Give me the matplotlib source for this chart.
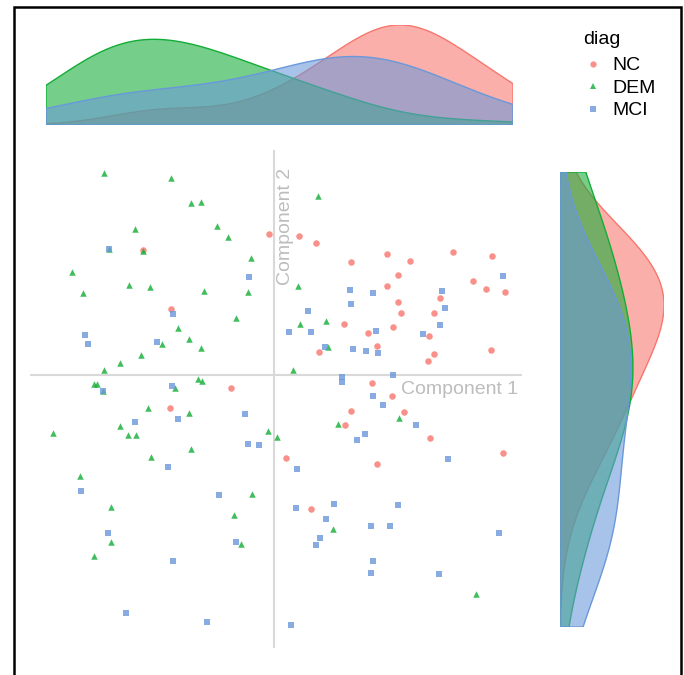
import numpy as np
import matplotlib.pyplot as plt
from matplotlib.lines import Line2D
from matplotlib.patches import Rectangle

plt.rcParams['font.family'] = ['Liberation Sans', 'DejaVu Sans']

groups = ["NC", "DEM", "MCI"]
colors = {"NC": "#F8766D", "DEM": "#12AD36", "MCI": "#6A98DA"}
markers = {"NC": "o", "DEM": "^", "MCI": "s"}

nc_x = [-0.05, 0.25, 0.42, 1.13, 1.36, 1.79, 2.18, 0.77, 1.24, 1.99, 2.12, 2.31, 1.13, 1.66,
        1.24, 1.27, 1.60, 0.70, 1.19, 0.94, 1.55, 0.45, 1.03, 1.60, 1.54, 2.17, -1.31, -1.03,
        -0.43, -1.04, 0.98, 1.18, 0.77, 1.30, 0.71, 1.56, 2.29, 0.12, 1.03, 0.37]
nc_y = [1.41, 1.39, 1.32, 1.21, 1.14, 1.23, 1.19, 1.13, 1.00, 0.94, 0.86, 0.83, 0.89, 0.77,
        0.73, 0.62, 0.62, 0.51, 0.48, 0.42, 0.39, 0.23, 0.29, 0.21, 0.14, 0.25, 1.25, 0.66,
        -0.13, -0.33, -0.08, -0.21, -0.36, -0.37, -0.50, -0.63, -0.78, -0.83, -0.89, -1.34]

dem_x = [-1.70, -1.03, -0.83, -0.73, -1.39, -0.57, -0.46, -1.31, -1.65, -0.23, -2.02, -1.45,
         -1.24, -0.70, -0.26, -1.91, -0.38, -0.96, -0.85, -1.12, -0.73, -1.33, -1.54, -1.70,
         -0.76, -0.72, 0.44, 0.24, 0.26, 0.52, 0.54, 0.19, -1.80, -1.77, -0.99, -1.71, -1.26,
         -0.85, -1.54, -2.21, -1.46, -1.38, -0.06, 0.03, -0.83, -1.23, -1.94, -0.22, -1.63,
         -0.40, -1.63, -0.33, -1.80, 0.64, 1.25, 0.59, 2.02]
dem_y = [2.02, 1.97, 1.72, 1.73, 1.46, 1.49, 1.38, 1.24, 1.26, 1.17, 1.03, 0.90, 0.88, 0.84,
         0.83, 0.82, 0.57, 0.47, 0.36, 0.31, 0.27, 0.20, 0.12, 0.05, -0.04, -0.06, 1.79, 0.89,
         0.51, 0.54, 0.28, 0.05, -0.09, -0.09, -0.13, -0.16, -0.33, -0.38, -0.51, -0.58, -0.60,
         -0.60, -0.56, -0.62, -0.74, -0.82, -1.01, -1.19, -1.32, -1.40, -1.67, -1.69, -1.81,
         -0.49, -0.43, -1.54, -2.19]

mci_x = [-1.65, -0.25, -1.01, -1.89, -1.86, -1.17, 0.76, 0.99, 0.77, 1.68, 2.29, 0.34, 1.71,
         0.15, 0.37, 1.02, 1.66, 1.49, 0.51, 0.79, 0.92, 1.04, 0.68, 1.19, 0.68, -1.02, -1.71,
         -0.96, -0.29, -1.39, -0.26, -0.15, -1.06, -1.93, -0.55, -1.66, -0.38, -1.01, -1.48,
         -0.67, 0.99, 1.09, 1.42, 0.91, 0.83, 1.74, 0.23, 0.22, 0.60, 1.24, 0.52, 0.97, 1.16,
         2.25, 0.46, 0.42, 0.99, 0.97, 1.65, 0.17]
mci_y = [1.26, 0.98, 0.61, 0.40, 0.31, 0.33, 0.85, 0.82, 0.71, 0.84, 0.99, 0.64, 0.67, 0.43,
         0.43, 0.44, 0.50, 0.41, 0.28, 0.26, 0.24, 0.22, -0.02, 0.00, -0.07, -0.11, -0.16,
         -0.44, -0.39, -0.47, -0.69, -0.70, -0.92, -1.16, -1.20, -1.58, -1.67, -1.86, -2.38,
         -2.47, -0.21, -0.30, -0.50, -0.59, -0.65, -0.84, -0.94, -1.33, -1.29, -1.30, -1.44,
         -1.51, -1.51, -1.58, -1.63, -1.70, -1.86, -1.98, -1.99, -2.50]

data = {"NC": (np.array(nc_x), np.array(nc_y)),
        "DEM": (np.array(dem_x), np.array(dem_y)),
        "MCI": (np.array(mci_x), np.array(mci_y))}


def kde(v, grid, adjust=1.0):
    # gaussian kde with R's bw.nrd0 rule
    n = len(v)
    iqr = np.subtract(*np.percentile(v, [75, 25]))
    bw = 0.9 * min(np.std(v, ddof=1), iqr / 1.34) * n ** -0.2 * adjust
    z = (grid[:, None] - v[None, :]) / bw
    return np.exp(-0.5 * z ** 2).sum(axis=1) / (n * bw * np.sqrt(2 * np.pi))


W, H = 684, 675
fig = plt.figure(figsize=(W / 100, H / 100), dpi=100)


def px_axes(left, top, right, bottom):
    return fig.add_axes([left / W, 1 - bottom / H, (right - left) / W, (bottom - top) / H])


ax = px_axes(30, 150, 522, 648)
ax.set_xlim((30 - 274) / 100, (522 - 274) / 100)
ax.set_ylim((375 - 648) / 100, (375 - 150) / 100)
ax.axhline(0, color="#d9d9d9", lw=1.5, zorder=0)
ax.axvline(0, color="#d9d9d9", lw=1.5, zorder=0)
for g in groups:
    x, y = data[g]
    ax.scatter(x, y, s=22, marker=markers[g], color=colors[g], alpha=0.8, linewidths=0)
ax.axis("off")
ax.text((518 - 274) / 100, (375 - 389) / 100, "Component 1", color="#bdbdbd",
        fontsize=14, ha="right", va="center")
ax.text((285 - 274) / 100, (375 - 168) / 100, "Component 2", color="#bdbdbd",
        fontsize=14, ha="center", va="top", rotation=90)

allx = np.concatenate([data[g][0] for g in groups])
ally = np.concatenate([data[g][1] for g in groups])
gx = np.linspace(allx.min(), allx.max(), 512)
gy = np.linspace(ally.min(), ally.max(), 512)
adj = 1.6
dx = {g: kde(data[g][0], gx, adj) for g in groups}
dy = {g: kde(data[g][1], gy, adj) for g in groups}

axt = px_axes(46, 25, 513, 125)
for g in groups:
    axt.fill(np.r_[gx[0], gx, gx[-1]], np.r_[0, dx[g], 0], facecolor=colors[g],
             alpha=0.58, edgecolor="none")
    axt.fill(np.r_[gx[0], gx, gx[-1]], np.r_[0, dx[g], 0], facecolor="none",
             edgecolor=colors[g], lw=1.0)
axt.set_xlim(gx[0], gx[-1])
axt.set_ylim(0, max(d.max() for d in dx.values()))
axt.axis("off")

axr = px_axes(560, 172, 664, 627)
for g in groups:
    axr.fill(np.r_[0, dy[g], 0], np.r_[gy[0], gy, gy[-1]], facecolor=colors[g],
             alpha=0.58, edgecolor="none")
    axr.fill(np.r_[0, dy[g], 0], np.r_[gy[0], gy, gy[-1]], facecolor="none",
             edgecolor=colors[g], lw=1.0)
axr.set_ylim(gy[0], gy[-1])
axr.set_xlim(0, max(d.max() for d in dy.values()))
axr.axis("off")

handles = [Line2D([], [], ls="none", marker=markers[g], color=colors[g], alpha=0.8,
                  markersize=4.5, markeredgewidth=0) for g in groups]
leg = fig.legend(handles, groups, title="diag", loc="upper left",
                 bbox_to_anchor=(566 / W, 1 - 14 / H), frameon=False, fontsize=14,
                 title_fontsize=14, handlelength=1.0, handletextpad=0.5, labelspacing=0.25)
leg._legend_box.align = "left"
leg._legend_box.sep = 6

fig.add_artist(Rectangle((14 / W, -0.1), (681 - 14) / W, 1 + 0.1 - 7.5 / H,
                         transform=fig.transFigure, fill=False, lw=1.8, ec="black"))

fig.savefig("out.png", dpi=100)
